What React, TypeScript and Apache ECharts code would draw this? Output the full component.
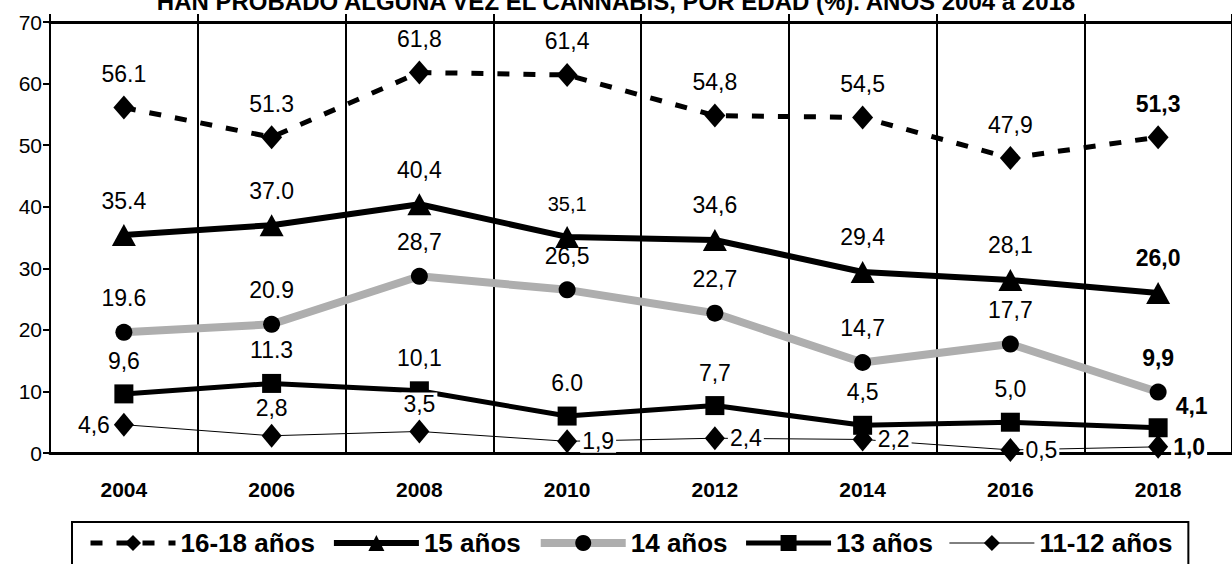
import React, { useEffect, useRef } from "react";
import * as echarts from "echarts";

const years = ["2004", "2006", "2008", "2010", "2012", "2014", "2016", "2018"];
const yTicks = [0, 10, 20, 30, 40, 50, 60, 70];

const names = ["16-18 años", "15 años", "14 años", "13 años", "11-12 años"];

const v1618 = [56.1, 51.3, 61.8, 61.4, 54.8, 54.5, 47.9, 51.3];
const l1618 = ["56.1", "51.3", "61,8", "61,4", "54,8", "54,5", "47,9", "51,3"];

const v15 = [35.4, 37.0, 40.4, 35.1, 34.6, 29.4, 28.1, 26.0];
const l15 = ["35.4", "37.0", "40,4", "35,1", "34,6", "29,4", "28,1", "26,0"];

const v14 = [19.6, 20.9, 28.7, 26.5, 22.7, 14.7, 17.7, 9.9];
const l14 = ["19.6", "20.9", "28,7", "26,5", "22,7", "14,7", "17,7", "9,9"];

const v13 = [9.6, 11.3, 10.1, 6.0, 7.7, 4.5, 5.0, 4.1];
const l13 = ["9,6", "11.3", "10,1", "6.0", "7,7", "4,5", "5,0", "4,1"];

const v1112 = [4.6, 2.8, 3.5, 1.9, 2.4, 2.2, 0.5, 1.0];
const l1112 = ["4,6", "2,8", "3,5", "1,9", "2,4", "2,2", "0,5", "1,0"];

const TITLE = "HAN PROBADO ALGUNA VEZ EL CANNABIS, POR EDAD (%). AÑOS 2004 a 2018";

const FONT = "'Liberation Sans Narrow', 'Arial Narrow', 'Liberation Sans', Arial, sans-serif";
const FONT_B = "'Liberation Sans', Arial, sans-serif";

const GREY = "#aeaeae";

function makeData(values: number[], labels: string[], extra?: (i: number) => any) {
  const last = values.length - 1;
  return values.map((v, i) => {
    const base: any = {
      show: true,
      formatter: labels[i],
      fontFamily: FONT,
      fontSize: 23,
      color: "#000",
      fontWeight: i === last ? "bold" : "normal",
    };
    const e = extra ? extra(i) : {};
    return { value: v, label: { ...base, ...e } };
  });
}

function buildOption() {
  return {
    animation: false,
    backgroundColor: "#fff",
    title: {
      text: TITLE,
      left: "center",
      top: -16,
      textStyle: { fontFamily: FONT_B, fontSize: 24, fontWeight: "bold", color: "#000" },
    },
    grid: { left: 50, right: -2, top: 22, bottom: 111, containLabel: false },
    legend: {
      data: [
        { name: names[0], lineStyle: { width: 5, type: [12, 14], color: "#000" } },
        { name: names[1], lineStyle: { width: 6, color: "#000" } },
        { name: names[2], lineStyle: { width: 8, color: GREY } },
        { name: names[3], lineStyle: { width: 5, color: "#000" } },
        { name: names[4], lineStyle: { width: 1, color: "#000" } },
      ],
      left: 72,
      top: 522,
      orient: "horizontal",
      borderColor: "#000",
      borderWidth: 2,
      padding: [8, 16, 20, 16],
      itemGap: 16,
      itemWidth: 85,
      itemHeight: 20,
      textStyle: { fontFamily: FONT_B, fontSize: 26, fontWeight: "bold", color: "#000" },
    },
    xAxis: [
      {
        type: "category",
        data: years,
        boundaryGap: true,
        axisLine: { show: true, lineStyle: { color: "#000", width: 3 } },
        axisTick: { show: false },
        axisLabel: {
          margin: 26,
          fontFamily: FONT_B,
          fontSize: 21,
          fontWeight: "bold",
          color: "#000",
        },
        splitLine: { show: true, lineStyle: { color: "#000", width: 2 } },
      },
      {
        type: "category",
        data: years,
        position: "top",
        boundaryGap: true,
        axisLine: { show: true, lineStyle: { color: "#000", width: 3 } },
        axisTick: { show: true, length: 8, lineStyle: { color: "#000", width: 2 } },
        axisLabel: { show: false },
        splitLine: { show: false },
      },
    ],
    yAxis: {
      type: "value",
      min: yTicks[0],
      max: yTicks[yTicks.length - 1],
      interval: 10,
      axisLine: { show: true, lineStyle: { color: "#000", width: 2 } },
      axisTick: { show: true, length: 7, lineStyle: { color: "#000", width: 2 } },
      axisLabel: { fontFamily: FONT, fontSize: 21, color: "#000", margin: 8 },
      splitLine: { show: false },
    },
    series: [
      {
        name: names[0],
        type: "line",
        data: makeData(v1618, l1618, () => ({ position: "top", distance: 10 })),
        symbol: "diamond",
        symbolSize: [21, 24],
        itemStyle: { color: "#000" },
        lineStyle: { color: "#000", width: 5, type: [12, 14] },
        z: 5,
      },
      {
        name: names[1],
        type: "line",
        data: makeData(v15, l15, (i) => ({
          position: "top",
          distance: 12,
          ...(i === 3 ? { fontSize: 20 } : {}),
        })),
        symbol: "triangle",
        symbolSize: [24, 22],
        itemStyle: { color: "#000" },
        lineStyle: { color: "#000", width: 6 },
        z: 5,
      },
      {
        name: names[2],
        type: "line",
        data: makeData(v14, l14, () => ({ position: "top", distance: 14 })),
        symbol: "circle",
        symbolSize: 17,
        itemStyle: { color: "#000" },
        lineStyle: { color: GREY, width: 8 },
        z: 4,
      },
      {
        name: names[3],
        type: "line",
        data: makeData(v13, l13, (i) =>
          i === 7
            ? { position: "right", distance: 8, offset: [0, -22] }
            : { position: "top", distance: 12 }
        ),
        symbol: "rect",
        symbolSize: 19,
        itemStyle: { color: "#000" },
        lineStyle: { color: "#000", width: 5 },
        z: 5,
      },
      {
        name: names[4],
        type: "line",
        data: makeData(v1112, l1112, (i) => {
          if (i === 0) return { position: "left", distance: 4 };
          if (i === 1 || i === 2)
            return { position: "top", distance: 4, backgroundColor: "#fff", padding: [0, 2] };
          return { position: "right", distance: 3, backgroundColor: "#fff", padding: [0, 2] };
        }),
        symbol: "diamond",
        symbolSize: [20, 24],
        itemStyle: { color: "#000" },
        lineStyle: { color: "#000", width: 1 },
        z: 6,
      },
    ],
  };
}

export default function App() {
  const ref = useRef<HTMLDivElement>(null);
  useEffect(() => {
    document.body.style.margin = "0";
    const chart = echarts.init(ref.current as HTMLDivElement, null, { renderer: "svg" });
    chart.setOption(buildOption() as any);
    return () => chart.dispose();
  }, []);
  return <div ref={ref} style={{ width: 1232, height: 564, background: "#fff" }} />;
}
